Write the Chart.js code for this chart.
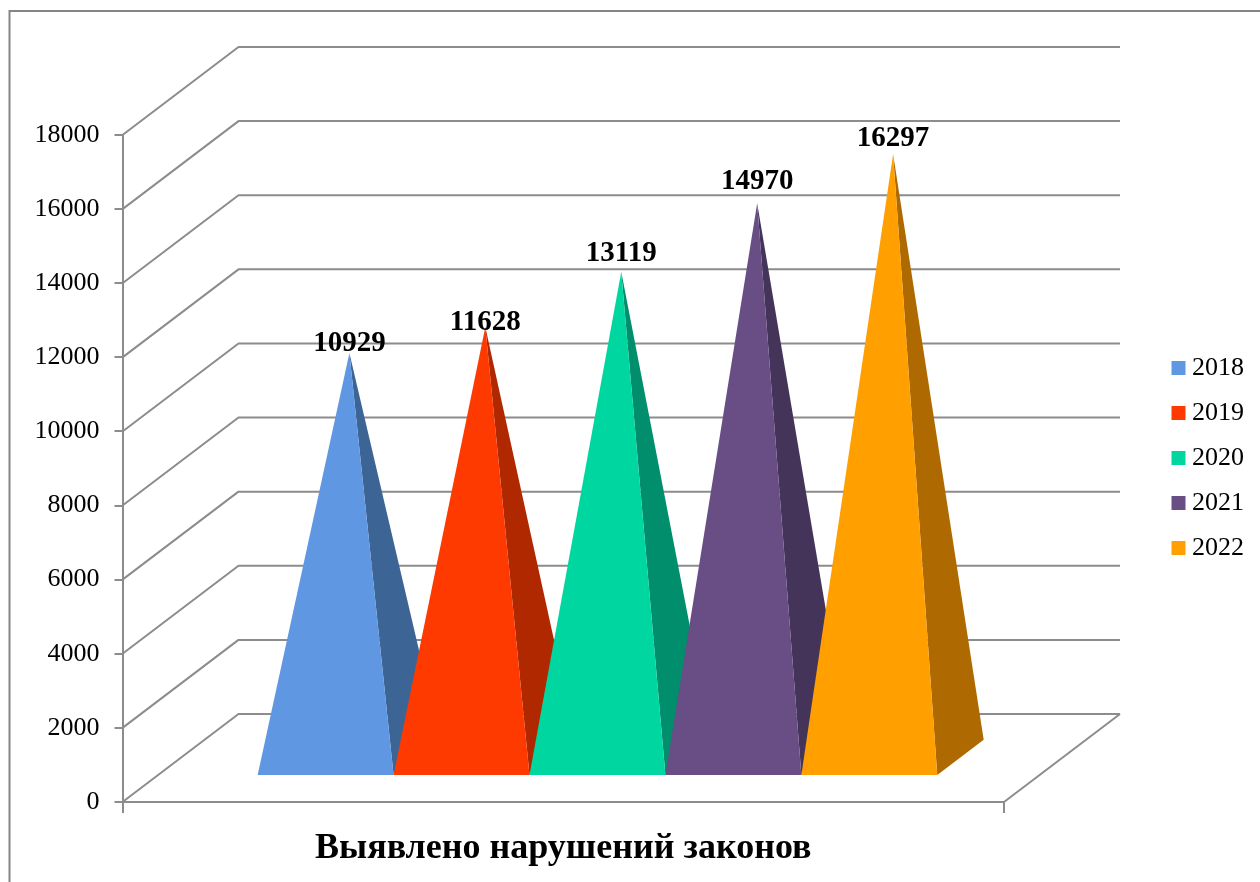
<!DOCTYPE html>
<html lang="ru">
<head>
<meta charset="utf-8">
<title>Выявлено нарушений законов</title>
<script src="https://cdn.jsdelivr.net/npm/chart.js@4/dist/chart.umd.js"></script>
<style>
  html, body { margin: 0; background: #fff; }
  canvas { display: block; }
</style>
</head>
<body>
<canvas id="mainChart" width="1260" height="882"></canvas>
<script>
// данные с диаграммы
const categories = ['Выявлено нарушений законов'];
const years = ['2018', '2019', '2020', '2021', '2022'];
const violations = [10929, 11628, 13119, 14970, 16297];
const frontColors = ['#5f97e3', '#ff3a00', '#00d6a0', '#684e85', '#ffa000'];
const sideColors = ['#3c6495', '#b02800', '#008e6c', '#45345a', '#ae6a00'];
// подписи в оригинале сдвинуты вручную
const labelLift = [10, 5, 18, 22, 16];

const SERIF = '"Liberation Serif", serif';
const LINE = '#8c8c8c';
const DEPTH = { x: 116, y: -88 };

// псевдо-3D: стены, пирамиды, подписи
const pyramid3d = {
    id: 'pyramid3d',
    afterLayout(chart) {
        chart.legend.left = 1159;
        chart.legend.right = 1260;
        chart.legend.top = 336;
    },
    beforeDraw(chart) {
        const ctx = chart.ctx;
        ctx.save();
        ctx.strokeStyle = '#858585';
        ctx.lineWidth = 2;
        ctx.beginPath();
        ctx.moveTo(9.5, 882);
        ctx.lineTo(9.5, 11);
        ctx.lineTo(1260, 11);
        ctx.stroke();
        ctx.restore();
    },
    beforeDatasetDraw() {
        return false; // вместо столбцов рисуем пирамиды
    },
    afterDatasetsDraw(chart) {
        const ctx = chart.ctx;
        const { x: xs, y: ys } = chart.scales;
        ctx.save();
        ctx.strokeStyle = LINE;
        ctx.lineWidth = 2;
        ctx.lineJoin = 'round';
        ys.ticks.forEach(t => {
            const y = ys.getPixelForValue(t.value);
            ctx.beginPath();
            ctx.moveTo(xs.left, y);
            ctx.lineTo(xs.left + DEPTH.x, y + DEPTH.y);
            ctx.lineTo(xs.right + DEPTH.x, y + DEPTH.y);
            ctx.stroke();
        });
        const y0 = ys.getPixelForValue(0);
        ctx.beginPath();
        ctx.moveTo(xs.right, y0);
        ctx.lineTo(xs.right + DEPTH.x, y0 + DEPTH.y);
        ctx.stroke();

        const front = 0.295, back = 0.695;
        const apexes = [];
        chart.data.datasets.forEach((ds, i) => {
            const bar = chart.getDatasetMeta(i).data[0];
            const left = bar.x - bar.width / 2;
            const right = bar.x + bar.width / 2;
            const apex = { x: bar.x + DEPTH.x * 0.5, y: bar.y + DEPTH.y * 0.5 };
            const fy = bar.base + DEPTH.y * front;
            const fx = DEPTH.x * front;
            apexes.push(apex);

            ctx.fillStyle = sideColors[i];
            ctx.beginPath();
            ctx.moveTo(right + fx, fy);
            ctx.lineTo(right + DEPTH.x * back, bar.base + DEPTH.y * back);
            ctx.lineTo(apex.x, apex.y);
            ctx.closePath();
            ctx.fill();

            ctx.fillStyle = frontColors[i];
            ctx.beginPath();
            ctx.moveTo(left + fx, fy);
            ctx.lineTo(right + fx, fy);
            ctx.lineTo(apex.x, apex.y);
            ctx.closePath();
            ctx.fill();
        });

        ctx.fillStyle = '#000';
        ctx.font = 'bold 29px ' + SERIF;
        ctx.textAlign = 'center';
        ctx.textBaseline = 'middle';
        violations.forEach((v, i) => {
            ctx.fillText(String(v), apexes[i].x, apexes[i].y - labelLift[i]);
        });
        ctx.restore();
    }
};

new Chart(document.getElementById('mainChart').getContext('2d'), {
    type: 'bar',
    data: {
        labels: categories,
        datasets: years.map((year, i) => ({
            label: year,
            data: [violations[i]],
            backgroundColor: frontColors[i]
        }))
    },
    plugins: [pyramid3d],
    options: {
        responsive: false,
        animation: false,
        categoryPercentage: 0.771,
        barPercentage: 1,
        layout: { padding: { left: 0, top: 135, right: 256, bottom: 0 } },
        plugins: {
            tooltip: { enabled: false },
            legend: {
                position: 'chartArea',
                align: 'start',
                labels: {
                    usePointStyle: true,
                    pointStyle: 'rect',
                    boxWidth: 1,
                    boxHeight: 14,
                    padding: 19,
                    color: '#000',
                    font: { family: SERIF, size: 26, lineHeight: 1 }
                }
            }
        },
        scales: {
            x: {
                afterFit(scale) { scale.height = 80; },
                border: { color: LINE, width: 2 },
                grid: { drawOnChartArea: false, color: LINE, lineWidth: 2, tickLength: 11 },
                ticks: {
                    color: '#000',
                    padding: 14,
                    maxRotation: 0,
                    autoSkip: false,
                    font: { family: SERIF, size: 36, weight: 'bold' }
                }
            },
            y: {
                min: 0,
                max: 18000,
                afterFit(scale) { scale.width = 122.5; },
                border: { color: LINE, width: 2 },
                grid: { drawOnChartArea: false, color: LINE, lineWidth: 2, tickLength: 8 },
                ticks: {
                    stepSize: 2000,
                    color: '#000',
                    padding: 15,
                    font: { family: SERIF, size: 26 },
                    callback: v => String(v)
                }
            }
        }
    }
});
</script>
</body>
</html>
